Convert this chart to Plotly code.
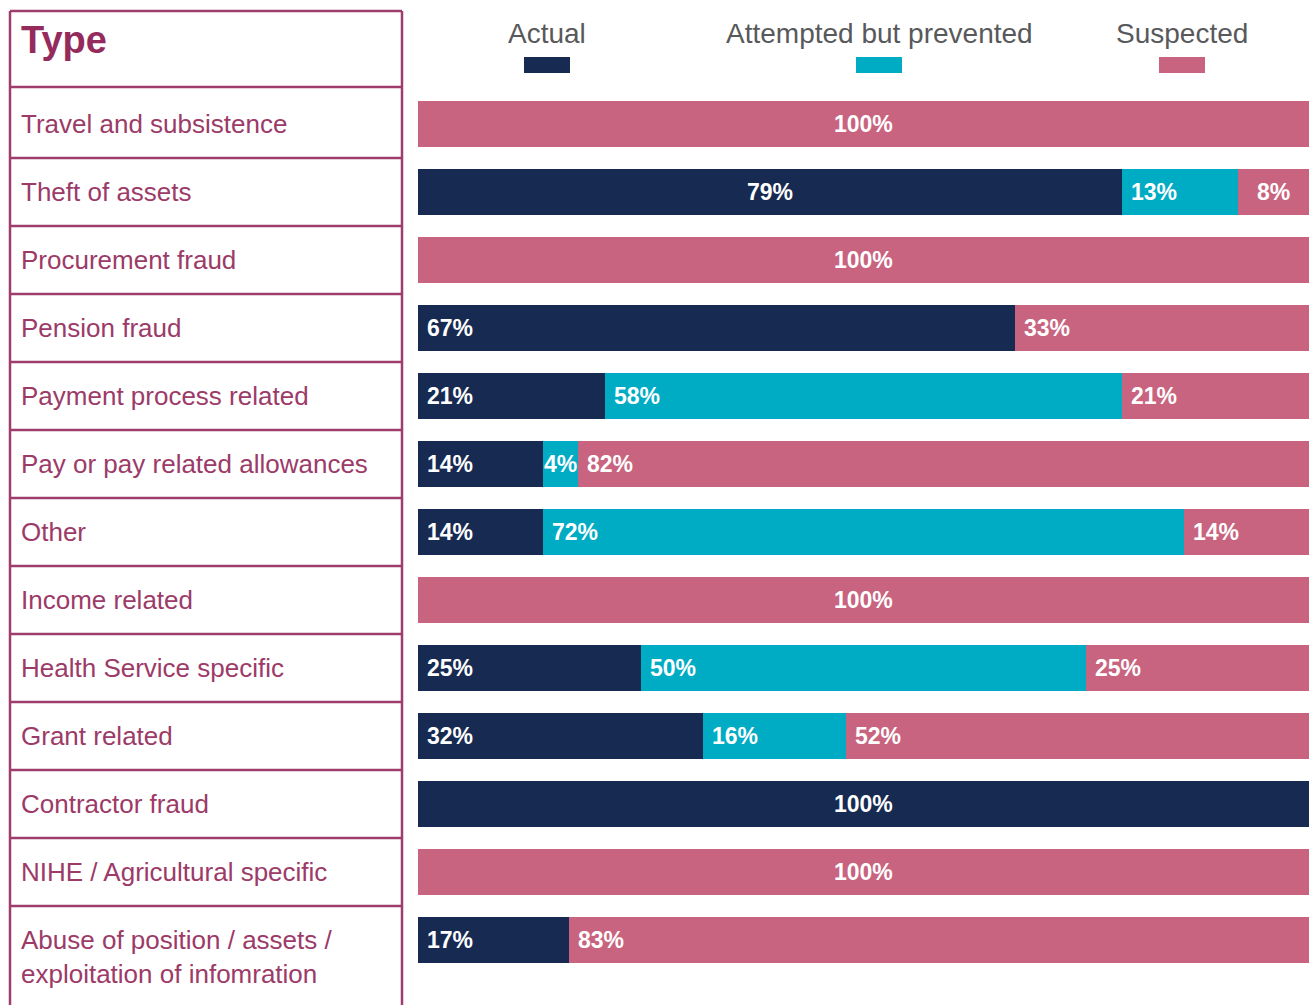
import plotly.graph_objects as go

# ---------------- data ----------------
categories = [
    "Travel and subsistence",
    "Theft of assets",
    "Procurement fraud",
    "Pension fraud",
    "Payment process related",
    "Pay or pay related allowances",
    "Other",
    "Income related",
    "Health Service specific",
    "Grant related",
    "Contractor fraud",
    "NIHE / Agricultural specific",
    "Abuse of position / assets /<br>exploitation of infomration",
]
series_names = ["Actual", "Attempted but prevented", "Suspected"]
actual = [0, 79, 0, 67, 21, 14, 14, 0, 25, 32, 100, 0, 17]
attempted = [0, 13, 0, 0, 58, 4, 72, 0, 50, 16, 0, 0, 0]
suspected = [100, 8, 100, 33, 21, 82, 14, 100, 25, 52, 0, 100, 83]
header_text = "Type"

# ---------------- style ----------------
series_values = [actual, attempted, suspected]
colors = ["#172A52", "#00ABC4", "#C8647F"]
legend_centers_px = [547, 879, 1182]
centered_labels = {(1, 0), (1, 2), (5, 1)}  # (row, series) labels drawn centred in their segment
table_color = "#9E3D6B"
text_color = "#9C3A68"
header_color = "#952B5C"

# figure geometry in screen pixels (body margin removed by post_script)
W, H = 1309, 1005
PLOT_LEFT, PLOT_TOP, PLOT_BOTTOM = 418, 90, 974
L, T, B = PLOT_LEFT, PLOT_TOP, H - PLOT_BOTTOM
FONT = "Liberation Sans, Arial, sans-serif"


def px_x(px):
    return (px - L) / (W - L)


def px_y(py):
    return (H - B - py) / (H - T - B)


n = len(categories)
rows = list(range(n))

fig = go.Figure()
for name, vals, col in zip(series_names, series_values, colors):
    fig.add_trace(go.Bar(
        y=rows, x=vals, name=name, orientation="h",
        marker=dict(color=col, line=dict(width=0)),
        width=0.676, showlegend=False, hoverinfo="x+name",
    ))

annotations = []
shapes = []

# bar value labels
for r in rows:
    left = 0
    for s, vals in enumerate(series_values):
        v = vals[r]
        if v > 0:
            if v == 100 or (r, s) in centered_labels:
                annotations.append(dict(
                    x=left + v / 2, y=r, xref="x", yref="y", text=f"<b>{v}%</b>",
                    showarrow=False, xanchor="center", yanchor="middle",
                    font=dict(family=FONT, size=23, color="white")))
            else:
                annotations.append(dict(
                    x=left, y=r, xref="x", yref="y", text=f"<b>{v}%</b>",
                    showarrow=False, xanchor="left", yanchor="middle", xshift=7,
                    font=dict(family=FONT, size=23, color="white")))
        left += v

# category labels
for r, c in enumerate(categories):
    annotations.append(dict(
        x=px_x(19), y=r, xref="paper", yref="y", text=c, showarrow=False,
        xanchor="left", yanchor="middle", align="left",
        yshift=(-17 if "<br>" in c else 0),
        font=dict(family=FONT, size=26, color=text_color)))

# header
annotations.append(dict(
    x=px_x(19), y=px_y(40), xref="paper", yref="paper", text=f"<b>{header_text}</b>",
    showarrow=False, xanchor="left", yanchor="middle",
    font=dict(family=FONT, size=38, color=header_color)))

# table borders
lw = 2.5
for xp in (10, 402):
    shapes.append(dict(type="line", xref="paper", yref="paper",
                       x0=px_x(xp), x1=px_x(xp), y0=px_y(11), y1=px_y(1010),
                       line=dict(color=table_color, width=lw)))
for yp in (11, 87):
    shapes.append(dict(type="line", xref="paper", yref="paper",
                       x0=px_x(10), x1=px_x(402), y0=px_y(yp), y1=px_y(yp),
                       line=dict(color=table_color, width=lw)))
for r in rows[:-1]:
    shapes.append(dict(type="line", xref="paper", yref="y",
                       x0=px_x(10), x1=px_x(402), y0=r + 0.5, y1=r + 0.5,
                       line=dict(color=table_color, width=lw)))

# legend
for name, col, cx in zip(series_names, colors, legend_centers_px):
    annotations.append(dict(
        x=px_x(cx), y=px_y(33), xref="paper", yref="paper", text=name,
        showarrow=False, xanchor="center", yanchor="middle",
        font=dict(family=FONT, size=28, color="#58595B")))
    shapes.append(dict(type="rect", xref="paper", yref="paper",
                       x0=px_x(cx - 23), x1=px_x(cx + 23), y0=px_y(73), y1=px_y(57),
                       fillcolor=col, line=dict(width=0)))

fig.update_layout(
    width=W, height=H,
    margin=dict(l=L, r=0, t=T, b=B, pad=0),
    barmode="stack",
    paper_bgcolor="white", plot_bgcolor="white",
    xaxis=dict(range=[0, 100], visible=False, fixedrange=True),
    yaxis=dict(range=[n - 0.5, -0.5], visible=False, fixedrange=True),
    annotations=annotations, shapes=shapes,
    font=dict(family=FONT),
)

post = (
    "document.body.style.margin='0';"
    "document.body.style.overflow='hidden';"
    "document.documentElement.style.overflow='hidden';"
    "var gd=document.getElementById('{plot_id}');"
    "Plotly.relayout(gd,{width:%d,height:%d});" % (W, H)
)

fig.write_html("out.html", post_script=post, config={"displayModeBar": False})
